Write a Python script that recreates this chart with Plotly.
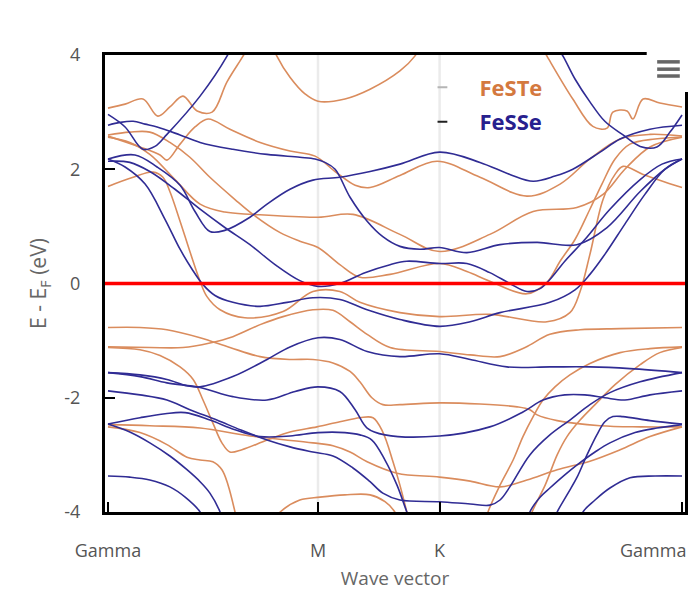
import plotly.graph_objects as go

# ---------------- data ----------------
K_TICKS = [0.0, 0.577, 0.911, 1.577]
K_LABELS = ["Gamma", "M", "K", "Gamma"]
E_TICKS = [-4, -2, 0, 2, 4]
E_TICK_LABELS = ["-4", "-2", "0", "2", "4"]
FERMI_LEVEL = 0.0

SERIES_NAMES = ["FeSTe", "FeSSe"]

# FeSTe bands: (k, E) pairs
FESTE_BANDS = [
    ([0, 0.047, 0.096, 0.137, 0.170, 0.206, 0.245, 0.286, 0.327, 0.371, 0.390],
     [3.07, 3.14, 3.23, 2.93, 3.09, 3.28, 3.02, 3.00, 3.53, 3.98, 4.19]),
    ([1.187, 1.206, 1.277, 1.332, 1.371, 1.387, 1.426, 1.442, 1.470, 1.516, 1.577],
     [4.19, 3.98, 3.23, 2.75, 2.72, 3.00, 3.02, 2.88, 3.23, 3.16, 3.09]),
    ([0.445, 0.464, 0.500, 0.541, 0.577, 0.651, 0.720, 0.802, 0.843, 0.857],
     [4.28, 3.98, 3.61, 3.32, 3.19, 3.23, 3.40, 3.72, 3.98, 4.14]),
    ([0, 0.088, 0.143, 0.162, 0.198, 0.239, 0.275, 0.335, 0.418, 0.500, 0.569, 0.624, 0.679,
      0.720, 0.802, 0.904, 1.022, 1.151, 1.242, 1.324, 1.407, 1.489, 1.577],
     [2.58, 2.39, 2.25, 2.16, 2.44, 2.74, 2.88, 2.70, 2.47, 2.32, 2.23, 1.96, 1.72,
      1.68, 1.89, 2.14, 1.86, 1.53, 1.74, 2.18, 2.53, 2.61, 2.58]),
    ([0, 0.069, 0.124, 0.151, 0.170, 0.198, 0.225, 0.253, 0.272, 0.308, 0.376, 0.481, 0.563,
      0.637, 0.692, 0.802, 0.911, 1.049, 1.206, 1.269, 1.297, 1.324, 1.360, 1.393, 1.415,
      1.470, 1.577],
     [1.70, 1.86, 1.95, 1.86, 1.61, 1.09, 0.56, 0.04, -0.23, -0.46, -0.60, -0.49, -0.14,
      -0.14, -0.33, -0.51, -0.58, -0.54, -0.67, -0.51, -0.14, 0.51, 1.47, 1.91, 2.05,
      1.91, 1.68]),
    ([0, 0.060, 0.115, 0.184, 0.253, 0.321, 0.398, 0.577, 0.673, 0.802, 0.911, 1.049, 1.168,
      1.288, 1.360, 1.420, 1.489, 1.577],
     [2.56, 2.47, 2.26, 1.82, 1.39, 1.25, 1.21, 1.16, 1.21, 0.86, 0.56, 0.86, 1.26,
      1.33, 1.56, 2.00, 2.39, 2.56]),
    ([0, 0.060, 0.115, 0.170, 0.225, 0.280, 0.349, 0.398, 0.473, 0.527, 0.577, 0.637, 0.692,
      0.775, 0.911, 0.986, 1.049, 1.151, 1.206, 1.242, 1.283, 1.324, 1.357, 1.393, 1.434,
      1.503, 1.577],
     [2.60, 2.65, 2.65, 2.47, 2.21, 1.86, 1.47, 1.21, 0.89, 0.74, 0.63, 0.33, 0.11,
      0.16, 0.35, 0.21, 0.04, -0.18, 0.02, 0.39, 0.77, 1.30, 1.74, 2.18, 2.44,
      2.53, 2.56]),
    ([0, 0.088, 0.162, 0.253, 0.335, 0.418, 0.500, 0.563, 0.618, 0.665, 0.692, 0.725, 0.755,
      0.802, 0.911, 1.022, 1.124, 1.159, 1.179, 1.234, 1.352, 1.462, 1.577],
     [-0.77, -0.77, -0.81, -0.95, -1.12, -1.28, -1.33, -1.33, -1.39, -1.54, -1.72, -2.00, -2.12,
      -2.12, -2.09, -2.11, -2.16, -2.21, -2.30, -2.40, -2.49, -2.51, -2.51]),
    ([0, 0.115, 0.206, 0.280, 0.343, 0.418, 0.481, 0.563, 0.618, 0.665, 0.712, 0.775, 0.911,
      0.995, 1.077, 1.146, 1.214, 1.297, 1.407, 1.577],
     [-1.11, -1.12, -1.12, -1.04, -0.93, -0.72, -0.58, -0.46, -0.47, -0.67, -0.89, -1.12, -1.19,
      -1.25, -1.28, -1.12, -0.89, -0.81, -0.79, -0.77]),
    ([0, 0.088, 0.143, 0.198, 0.234, 0.261, 0.288, 0.313, 0.335, 0.368, 0.437, 0.500, 0.574,
      0.637, 0.692, 0.728, 0.755, 0.783, 0.802, 0.821, 0.830],
     [-1.12, -1.16, -1.26, -1.46, -1.68, -2.04, -2.44, -2.79, -2.95, -2.91, -2.74, -2.60, -2.51,
      -2.42, -2.35, -2.35, -2.60, -3.12, -3.53, -4.00, -4.23]),
    ([0, 0.115, 0.253, 0.390, 0.563, 0.618, 0.665, 0.712, 0.794, 0.911, 0.995, 1.077, 1.151,
      1.234, 1.324, 1.407, 1.489, 1.577],
     [-2.47, -2.49, -2.53, -2.67, -2.79, -2.84, -2.95, -3.12, -3.32, -3.39, -3.46, -3.56, -3.44,
      -3.26, -3.11, -2.91, -2.68, -2.51]),
    ([0, 0.088, 0.162, 0.217, 0.253, 0.288, 0.313, 0.330, 0.349, 0.357],
     [-2.51, -2.61, -2.82, -3.04, -3.09, -3.12, -3.26, -3.53, -4.00, -4.23]),
    ([1.036, 1.044, 1.077, 1.113, 1.140, 1.168, 1.195, 1.228, 1.269, 1.324, 1.407, 1.489, 1.577],
     [-4.23, -4.00, -3.53, -3.09, -2.68, -2.33, -2.04, -1.81, -1.60, -1.40, -1.21, -1.14, -1.11]),
    ([1.154, 1.165, 1.201, 1.234, 1.261, 1.297, 1.338, 1.393, 1.462, 1.516, 1.577],
     [-4.23, -4.00, -3.53, -3.00, -2.68, -2.39, -2.12, -1.77, -1.42, -1.21, -1.12]),
    ([0.445, 0.473, 0.527, 0.582, 0.651, 0.720, 0.761, 0.788, 0.802],
     [-4.23, -4.00, -3.79, -3.74, -3.70, -3.70, -3.82, -4.00, -4.23]),
]

# FeSSe bands: (k, E) pairs
FESSE_BANDS = [
    ([0, 0.047, 0.096, 0.129, 0.162, 0.253, 0.327, 0.343],
     [2.96, 2.74, 2.35, 2.40, 2.61, 3.28, 3.98, 4.19]),
    ([1.228, 1.250, 1.283, 1.324, 1.365, 1.415, 1.462, 1.508, 1.544, 1.577],
     [4.19, 3.98, 3.58, 3.18, 2.84, 2.60, 2.40, 2.39, 2.65, 2.95]),
    ([0, 0.033, 0.069, 0.102, 0.135, 0.198, 0.253, 0.343, 0.437, 0.527, 0.569, 0.596, 0.624,
      0.665, 0.712, 0.755, 0.802, 0.857, 0.911, 0.986, 1.077, 1.179, 1.288, 1.371, 1.462,
      1.530, 1.577],
     [2.77, 2.82, 2.84, 2.79, 2.74, 2.60, 2.47, 2.35, 2.26, 2.21, 2.18, 2.12, 2.00,
      1.51, 1.09, 0.82, 0.65, 0.60, 0.63, 0.54, 0.68, 0.72, 0.68, 0.98, 1.61,
      2.00, 2.18]),
    ([0, 0.074, 0.135, 0.198, 0.239, 0.280, 0.321, 0.390, 0.437, 0.500, 0.563, 0.637, 0.720,
      0.802, 0.911, 1.022, 1.104, 1.168, 1.228, 1.277, 1.352, 1.407, 1.489, 1.577],
     [2.18, 2.25, 2.04, 1.72, 1.26, 0.91, 0.93, 1.16, 1.39, 1.65, 1.81, 1.86, 1.96,
      2.09, 2.30, 2.12, 1.91, 1.79, 1.88, 2.00, 2.30, 2.53, 2.70, 2.77]),
    ([0, 0.060, 0.115, 0.184, 0.253, 0.321, 0.390, 0.459, 0.527, 0.577, 0.637, 0.706, 0.775,
      0.821, 0.911, 0.986, 1.049, 1.104, 1.151, 1.187, 1.214, 1.255, 1.310, 1.379, 1.462,
      1.522, 1.577],
     [2.14, 2.12, 1.96, 1.65, 1.30, 0.98, 0.68, 0.33, 0.05, -0.05, 0.00, 0.19, 0.33,
      0.39, 0.35, 0.35, 0.19, 0.00, -0.14, -0.09, 0.07, 0.39, 0.77, 1.30, 1.82,
      2.09, 2.18]),
    ([0, 0.047, 0.102, 0.157, 0.198, 0.231, 0.261, 0.294, 0.343, 0.418, 0.492, 0.563, 0.637,
      0.712, 0.802, 0.911, 0.995, 1.077, 1.214, 1.283, 1.324, 1.365, 1.420, 1.475, 1.530,
      1.577],
     [2.18, 2.04, 1.74, 1.12, 0.60, 0.25, -0.02, -0.21, -0.33, -0.40, -0.33, -0.25, -0.28,
      -0.46, -0.63, -0.75, -0.67, -0.51, -0.33, -0.11, 0.16, 0.51, 1.04, 1.56, 2.00,
      2.18]),
    ([0, 0.088, 0.162, 0.217, 0.253, 0.343, 0.437, 0.500, 0.577, 0.637, 0.712, 0.802, 0.911,
      0.995, 1.096, 1.214, 1.324, 1.434, 1.577],
     [-1.56, -1.60, -1.68, -1.79, -1.81, -1.63, -1.33, -1.11, -0.95, -0.98, -1.19, -1.28, -1.23,
      -1.33, -1.46, -1.46, -1.46, -1.49, -1.56]),
    ([0, 0.088, 0.162, 0.253, 0.343, 0.437, 0.514, 0.577, 0.637, 0.679, 0.712, 0.761, 0.911,
      1.049, 1.140, 1.195, 1.255, 1.310, 1.365, 1.420, 1.489, 1.577],
     [-1.56, -1.63, -1.74, -1.82, -1.98, -2.04, -1.89, -1.81, -1.89, -2.21, -2.53, -2.65, -2.67,
      -2.51, -2.25, -2.04, -1.95, -1.95, -2.00, -2.04, -1.95, -1.88]),
    ([0, 0.088, 0.162, 0.225, 0.299, 0.363, 0.437, 0.500, 0.563, 0.618, 0.673, 0.720, 0.755,
      0.802, 0.911, 0.995, 1.049, 1.077, 1.104, 1.159, 1.214, 1.269, 1.324, 1.379, 1.462,
      1.577],
     [-1.88, -1.95, -2.04, -2.21, -2.39, -2.56, -2.74, -2.86, -2.95, -3.02, -3.23, -3.47, -3.67,
      -3.79, -3.82, -3.86, -3.88, -3.79, -3.56, -3.00, -2.65, -2.39, -2.12, -1.91, -1.72,
      -1.56]),
    ([0, 0.088, 0.157, 0.212, 0.280, 0.349, 0.418, 0.500, 0.577, 0.651, 0.692, 0.725, 0.761,
      0.794, 0.821, 0.835],
     [-2.46, -2.35, -2.28, -2.26, -2.39, -2.56, -2.68, -2.67, -2.61, -2.61, -2.65, -2.74, -3.09,
      -3.53, -4.00, -4.23]),
    ([0, 0.060, 0.115, 0.170, 0.217, 0.253, 0.280, 0.308, 0.319],
     [-2.46, -2.60, -2.79, -3.02, -3.26, -3.47, -3.67, -4.00, -4.23]),
    ([0, 0.060, 0.115, 0.170, 0.212, 0.253, 0.266],
     [-3.37, -3.39, -3.44, -3.56, -3.74, -4.00, -4.23]),
    ([1.151, 1.159, 1.187, 1.214, 1.255, 1.288, 1.338, 1.379, 1.448, 1.508, 1.577],
     [-4.23, -4.00, -3.74, -3.58, -3.35, -3.18, -2.95, -2.79, -2.61, -2.53, -2.47]),
    ([1.220, 1.234, 1.261, 1.288, 1.316, 1.343, 1.365, 1.387, 1.415, 1.489, 1.577],
     [-4.23, -4.00, -3.70, -3.40, -3.00, -2.65, -2.42, -2.33, -2.33, -2.40, -2.46]),
    ([1.297, 1.305, 1.338, 1.379, 1.434, 1.503, 1.577],
     [-4.23, -4.00, -3.79, -3.58, -3.40, -3.37, -3.37]),
]

# ---------------- styling ----------------
ORANGE = "#da8c5d"
BLUE = "#302c94"
ORANGE_TXT = "#d4793f"
BLUE_TXT = "#27208e"
FONT = "Open Sans"
TICK_FONT = dict(family=FONT, size=18, color="#555555")

fig = go.Figure()

# light vertical guides at the interior high-symmetry points
for kv in K_TICKS[1:-1]:
    fig.add_vline(x=kv, line=dict(color="#ebebeb", width=2.5), layer="below")

for bands, color in ((FESTE_BANDS, ORANGE), (FESSE_BANDS, BLUE)):
    for k, e in bands:
        fig.add_trace(go.Scatter(
            x=k, y=e, mode="lines",
            line=dict(color=color, width=1.6, shape="spline", smoothing=1.0),
            showlegend=False, hoverinfo="skip"))

# legend entries
for name, sym_color, txt_color, grp in ((SERIES_NAMES[0], "#b5b5b5", ORANGE_TXT, "a"),
                                         (SERIES_NAMES[1], "#202020", BLUE_TXT, "b")):
    fig.add_trace(go.Scatter(
        x=[None], y=[None], mode="markers",
        marker=dict(symbol="line-ew-open", size=7, color=sym_color,
                    line=dict(color=sym_color, width=2)),
        name=f"<b><span style='color:{txt_color}'>{name}</span></b>",
        legendgroup=grp, showlegend=True))

fig.add_hline(y=FERMI_LEVEL, line=dict(color="#ff0000", width=3.5))

axis_common = dict(
    showline=True, linecolor="black", linewidth=3, mirror=True,
    ticks="inside", ticklen=10, tickwidth=2, tickcolor="black",
    zeroline=False, showgrid=False, automargin=False,
    tickfont=TICK_FONT,
)

# last label is drawn right-aligned (kept inside the chart, like the original)
x_ticktext = K_LABELS[:-1] + [""]

fig.update_layout(
    width=698, height=592,
    margin=dict(l=97, r=21, t=47, b=88, autoexpand=False),
    paper_bgcolor="white", plot_bgcolor="white",
    font=dict(family=FONT, color="#555555"),
    xaxis=dict(
        range=[-0.0082, 1.5852], tickvals=K_TICKS, ticktext=x_ticktext,
        ticklabelstandoff=20,
        title=dict(text="Wave vector", font=dict(family=FONT, size=19, color="#666666"),
                   standoff=12),
        **axis_common),
    yaxis=dict(
        range=[-4, 4], tickvals=E_TICKS, ticktext=E_TICK_LABELS,
        ticklabelstandoff=18,
        title=dict(text="E - E<sub>F</sub> (eV)", font=dict(family=FONT, size=21, color="#666666"),
                   standoff=12),
        **axis_common),
    legend=dict(
        x=0.518, y=0.975, xanchor="left", yanchor="top",
        bgcolor="rgba(0,0,0,0)", borderwidth=0,
        font=dict(family=FONT, size=22),
        itemwidth=64, tracegroupgap=3,
    ),
    showlegend=True,
)

fig.add_annotation(text=K_LABELS[-1], x=K_TICKS[-1], xref="x", y=0, yref="paper",
                   xanchor="right", yanchor="top", xshift=6, yshift=-24,
                   showarrow=False, font=TICK_FONT)

# menu button: white box covering the frame corner, three grey bars
fig.add_shape(type="rect", xref="paper", yref="paper",
              x0=0.934, x1=1.05, y0=0.919, y1=1.06,
              fillcolor="white", line=dict(width=0), layer="above")
for yb in (0.985, 0.969, 0.954):
    fig.add_shape(type="line", xref="paper", yref="paper",
                  x0=0.952, x1=0.991, y0=yb, y1=yb,
                  line=dict(color="#666666", width=3.5), layer="above")

fig.write_html("out.html")
